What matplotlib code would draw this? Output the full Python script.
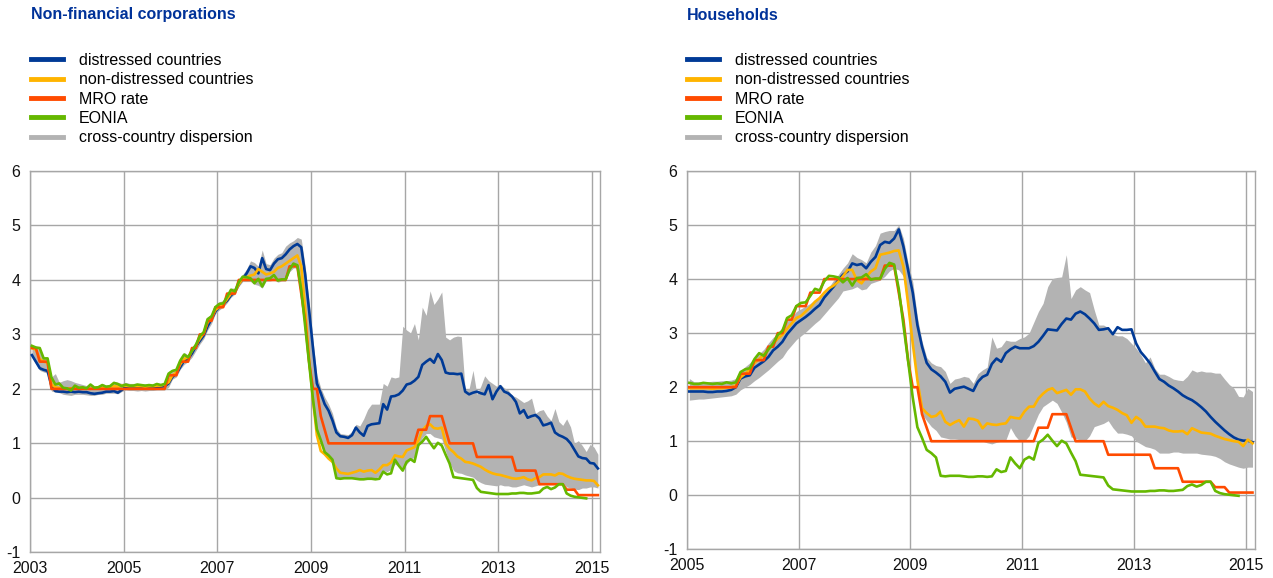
import matplotlib
matplotlib.use('Agg')
import matplotlib.pyplot as plt
from matplotlib.lines import Line2D
import numpy as np

plt.rcParams['font.family'] = ['Liberation Sans', 'DejaVu Sans']
plt.rcParams['axes.unicode_minus'] = False

BLUE = '#003a96'
YELLOW = '#ffb400'
ORANGE = '#ff4b00'
GREEN = '#65b800'
GRAY = '#b3b3b3'
GRID = '#a6a6a6'

labels = ['distressed countries', 'non-distressed countries', 'MRO rate', 'EONIA',
          'cross-country dispersion']

# monthly data, Jan 2003 - Feb 2015 (EONIA to Nov 2014)
mro = [2.75, 2.75, 2.50, 2.50, 2.50, 2.00, 2.00, 2.00, 2.00, 2.00, 2.00, 2.00,
       2.00, 2.00, 2.00, 2.00, 2.00, 2.00, 2.00, 2.00, 2.00, 2.00, 2.00, 2.00,
       2.00, 2.00, 2.00, 2.00, 2.00, 2.00, 2.00, 2.00, 2.00, 2.00, 2.00, 2.25,
       2.25, 2.25, 2.50, 2.50, 2.50, 2.75, 2.75, 3.00, 3.00, 3.25, 3.25, 3.50,
       3.50, 3.50, 3.75, 3.75, 3.75, 4.00, 4.00, 4.00, 4.00, 4.00, 4.00, 4.00,
       4.00, 4.00, 4.00, 4.00, 4.00, 4.00, 4.25, 4.25, 4.25, 3.75, 3.25, 2.50,
       2.00, 2.00, 1.50, 1.25, 1.00, 1.00, 1.00, 1.00, 1.00, 1.00, 1.00, 1.00,
       1.00, 1.00, 1.00, 1.00, 1.00, 1.00, 1.00, 1.00, 1.00, 1.00, 1.00, 1.00,
       1.00, 1.00, 1.00, 1.25, 1.25, 1.25, 1.50, 1.50, 1.50, 1.50, 1.25, 1.00,
       1.00, 1.00, 1.00, 1.00, 1.00, 1.00, 0.75, 0.75, 0.75, 0.75, 0.75, 0.75,
       0.75, 0.75, 0.75, 0.75, 0.50, 0.50, 0.50, 0.50, 0.50, 0.50, 0.25, 0.25,
       0.25, 0.25, 0.25, 0.25, 0.25, 0.15, 0.15, 0.15, 0.05, 0.05, 0.05, 0.05,
       0.05, 0.05]

eonia = [2.79, 2.76, 2.75, 2.56, 2.56, 2.21, 2.08, 2.10, 2.02, 2.01, 1.97, 2.06,
         2.02, 2.03, 2.01, 2.08, 2.02, 2.03, 2.07, 2.04, 2.05, 2.11, 2.09, 2.05,
         2.08, 2.06, 2.06, 2.08, 2.07, 2.06, 2.07, 2.06, 2.09, 2.07, 2.09, 2.28,
         2.33, 2.35, 2.52, 2.63, 2.58, 2.70, 2.81, 2.97, 3.04, 3.28, 3.33, 3.50,
         3.56, 3.57, 3.69, 3.82, 3.79, 3.96, 4.06, 4.05, 4.03, 3.94, 4.02, 3.88,
         4.02, 4.03, 4.09, 3.99, 4.01, 4.01, 4.19, 4.30, 4.27, 3.82, 3.15, 2.49,
         1.81, 1.26, 1.06, 0.84, 0.78, 0.70, 0.36, 0.35, 0.36, 0.36, 0.36, 0.35,
         0.34, 0.34, 0.35, 0.35, 0.34, 0.35, 0.48, 0.43, 0.45, 0.70, 0.59, 0.50,
         0.66, 0.71, 0.66, 0.97, 1.03, 1.12, 1.01, 0.91, 1.01, 0.96, 0.79, 0.63,
         0.38, 0.37, 0.36, 0.35, 0.34, 0.33, 0.18, 0.11, 0.10, 0.09, 0.08, 0.07,
         0.07, 0.07, 0.07, 0.08, 0.08, 0.09, 0.09, 0.08, 0.08, 0.09, 0.10, 0.17,
         0.20, 0.16, 0.19, 0.25, 0.25, 0.08, 0.04, 0.02, 0.01, 0.00, -0.01]

# Non-financial corporations, Jan 2003 - Feb 2015
nfc_distressed = [2.62, 2.50, 2.38, 2.35, 2.33, 2.05, 1.96, 1.95, 1.95, 1.94, 1.95, 1.94,
                  1.95, 1.94, 1.94, 1.92, 1.91, 1.92, 1.93, 1.95, 1.95, 1.96, 1.93, 1.98,
                  2.03, 2.04, 2.03, 2.02, 2.02, 2.02, 2.02, 2.03, 2.04, 2.04, 2.05, 2.10,
                  2.22, 2.28, 2.40, 2.52, 2.55, 2.65, 2.78, 2.88, 2.98, 3.15, 3.28, 3.42,
                  3.50, 3.55, 3.62, 3.72, 3.78, 3.92, 4.02, 4.12, 4.25, 4.22, 4.12, 4.40,
                  4.20, 4.18, 4.30, 4.38, 4.40, 4.47, 4.56, 4.62, 4.66, 4.60, 4.10, 3.45,
                  2.75, 2.10, 1.92, 1.72, 1.60, 1.42, 1.20, 1.13, 1.12, 1.10, 1.15, 1.29,
                  1.20, 1.14, 1.32, 1.35, 1.36, 1.37, 1.72, 1.62, 1.86, 1.87, 1.90, 1.97,
                  2.08, 2.10, 2.15, 2.22, 2.44, 2.50, 2.55, 2.48, 2.64, 2.53, 2.30, 2.28,
                  2.28, 2.27, 2.28, 1.95, 1.90, 1.93, 1.95, 1.92, 1.90, 2.07, 1.81, 1.95,
                  2.05, 1.95, 1.92, 1.86, 1.76, 1.55, 1.61, 1.47, 1.50, 1.52, 1.46, 1.33,
                  1.35, 1.38, 1.20, 1.15, 1.12, 1.08, 1.00, 0.88, 0.76, 0.73, 0.72, 0.64,
                  0.63, 0.54]
nfc_non_distressed = [2.75, 2.72, 2.55, 2.50, 2.48, 2.08, 2.03, 2.02, 2.01, 2.00, 2.01, 2.02,
                      2.02, 2.01, 2.01, 2.00, 2.02, 2.03, 2.02, 2.03, 2.03, 2.05, 2.04, 2.06,
                      2.06, 2.05, 2.05, 2.05, 2.05, 2.04, 2.05, 2.05, 2.06, 2.06, 2.08, 2.12,
                      2.25, 2.30, 2.45, 2.55, 2.58, 2.70, 2.80, 2.92, 3.02, 3.22, 3.30, 3.45,
                      3.50, 3.55, 3.65, 3.75, 3.78, 3.92, 4.02, 4.05, 4.08, 4.10, 4.20, 4.15,
                      4.10, 4.12, 4.15, 4.22, 4.25, 4.30, 4.35, 4.40, 4.45, 4.25, 3.45, 2.55,
                      1.80, 1.15, 0.86, 0.80, 0.72, 0.66, 0.54, 0.46, 0.45, 0.44, 0.46, 0.48,
                      0.51, 0.48, 0.50, 0.51, 0.46, 0.52, 0.60, 0.60, 0.65, 0.78, 0.76, 0.75,
                      0.87, 0.90, 0.93, 1.05, 1.24, 1.32, 1.35, 1.28, 1.27, 1.29, 1.00, 0.90,
                      0.84, 0.76, 0.72, 0.66, 0.65, 0.63, 0.60, 0.57, 0.52, 0.48, 0.45, 0.43,
                      0.42, 0.40, 0.38, 0.36, 0.35, 0.36, 0.38, 0.34, 0.32, 0.36, 0.38, 0.43,
                      0.43, 0.43, 0.41, 0.45, 0.44, 0.40, 0.37, 0.35, 0.34, 0.33, 0.32, 0.32,
                      0.31, 0.23]
nfc_upper = [2.80, 2.78, 2.76, 2.57, 2.55, 2.22, 2.28, 2.12, 2.15, 2.17, 2.15, 2.12,
             2.10, 2.08, 2.06, 2.10, 2.06, 2.06, 2.10, 2.07, 2.08, 2.14, 2.12, 2.10,
             2.12, 2.10, 2.10, 2.10, 2.09, 2.09, 2.09, 2.09, 2.11, 2.10, 2.12, 2.32,
             2.36, 2.38, 2.56, 2.67, 2.62, 2.75, 2.85, 3.00, 3.08, 3.32, 3.38, 3.54,
             3.60, 3.62, 3.73, 3.85, 3.85, 4.00, 4.10, 4.20, 4.35, 4.32, 4.25, 4.55,
             4.30, 4.28, 4.40, 4.47, 4.50, 4.62, 4.68, 4.72, 4.78, 4.75, 4.25, 3.60,
             2.90, 2.25, 2.02, 1.85, 1.72, 1.55, 1.28, 1.18, 1.17, 1.16, 1.22, 1.35,
             1.32, 1.45, 1.62, 1.72, 1.72, 1.72, 2.10, 2.05, 2.22, 2.20, 2.22, 3.15,
             3.08, 3.03, 3.20, 2.90, 3.50, 3.35, 3.80, 3.55, 3.65, 3.78, 2.95, 2.90,
             2.95, 2.97, 2.96, 1.98, 2.00, 2.34, 1.90, 2.05, 2.24, 2.15, 2.10, 2.05,
             2.08, 2.02, 1.98, 1.88, 1.85, 1.80, 1.75, 1.78, 1.83, 1.55, 1.60, 1.62,
             1.50, 1.42, 1.64, 1.40, 1.33, 1.45, 1.30, 1.00, 1.05, 0.96, 0.85, 0.98,
             0.93, 0.80]
nfc_lower = [2.58, 2.46, 2.34, 2.31, 2.29, 1.96, 1.94, 1.93, 1.90, 1.89, 1.88, 1.90,
             1.90, 1.90, 1.89, 1.88, 1.88, 1.90, 1.90, 1.92, 1.92, 1.92, 1.91, 1.95,
             1.98, 1.97, 1.97, 1.96, 1.97, 1.96, 1.97, 1.97, 1.98, 1.98, 1.98, 2.03,
             2.18, 2.22, 2.36, 2.45, 2.50, 2.58, 2.70, 2.82, 2.92, 3.08, 3.20, 3.38,
             3.45, 3.50, 3.58, 3.68, 3.74, 3.88, 3.97, 3.97, 3.97, 3.92, 3.90, 3.85,
             3.98, 3.98, 4.00, 3.96, 3.98, 3.98, 4.15, 4.22, 4.22, 3.80, 3.12, 2.45,
             1.78, 1.22, 1.02, 0.80, 0.74, 0.66, 0.36, 0.35, 0.36, 0.36, 0.36, 0.35,
             0.35, 0.35, 0.36, 0.37, 0.37, 0.40, 0.50, 0.48, 0.52, 0.62, 0.58, 0.55,
             0.62, 0.70, 0.75, 0.95, 1.10, 1.18, 1.18, 1.12, 1.10, 1.08, 0.85, 0.65,
             0.50, 0.46, 0.45, 0.42, 0.40, 0.38, 0.32, 0.28, 0.25, 0.24, 0.23, 0.22,
             0.24, 0.22, 0.22, 0.20, 0.20, 0.22, 0.24, 0.22, 0.20, 0.22, 0.24, 0.25,
             0.27, 0.26, 0.25, 0.28, 0.27, 0.20, 0.18, 0.16, 0.15, 0.18, 0.18, 0.20,
             0.20, 0.18]

# Households, Jan 2005 - Feb 2015
hh_distressed = [1.92, 1.92, 1.92, 1.92, 1.91, 1.91, 1.92, 1.92, 1.93, 1.95, 2.00, 2.16,
                 2.20, 2.22, 2.36, 2.42, 2.48, 2.56, 2.68, 2.75, 2.84, 2.98, 3.08, 3.18,
                 3.24, 3.30, 3.37, 3.45, 3.52, 3.66, 3.76, 3.86, 3.98, 4.08, 4.14, 4.29,
                 4.26, 4.28, 4.20, 4.32, 4.41, 4.63, 4.69, 4.67, 4.75, 4.92, 4.60, 4.17,
                 3.75, 3.15, 2.75, 2.45, 2.33, 2.27, 2.20, 2.10, 1.90, 1.97, 1.99, 2.01,
                 1.97, 1.93, 2.10, 2.19, 2.23, 2.43, 2.53, 2.47, 2.63, 2.70, 2.75, 2.72,
                 2.72, 2.72, 2.76, 2.84, 2.95, 3.07, 3.06, 3.05, 3.17, 3.27, 3.25, 3.36,
                 3.40, 3.35, 3.27, 3.18, 3.06, 3.07, 3.09, 2.98, 3.11, 3.06, 3.06, 3.07,
                 2.81, 2.65, 2.55, 2.44, 2.29, 2.15, 2.10, 2.03, 1.98, 1.92, 1.85, 1.80,
                 1.76, 1.70, 1.63, 1.55, 1.45, 1.36, 1.28, 1.20, 1.13, 1.07, 1.03, 1.01,
                 1.01, 0.98]
hh_non_distressed = [1.98, 1.98, 1.98, 1.98, 1.98, 1.97, 1.98, 1.98, 1.99, 2.00, 2.03, 2.18,
                     2.25, 2.32, 2.45, 2.52, 2.60, 2.70, 2.80, 2.90, 2.97, 3.08, 3.18, 3.28,
                     3.32, 3.40, 3.48, 3.58, 3.65, 3.75, 3.83, 3.88, 3.95, 4.05, 4.17, 4.17,
                     3.98, 3.92, 4.04, 4.14, 4.20, 4.45, 4.47, 4.49, 4.52, 4.53, 4.23, 3.55,
                     2.81, 2.13, 1.61, 1.52, 1.45, 1.47, 1.55, 1.36, 1.30, 1.35, 1.39, 1.27,
                     1.42, 1.41, 1.38, 1.24, 1.33, 1.31, 1.30, 1.32, 1.33, 1.45, 1.43, 1.42,
                     1.55, 1.64, 1.64, 1.79, 1.88, 1.95, 1.98, 1.89, 1.92, 1.95, 1.86, 1.96,
                     1.96, 1.92, 1.79, 1.70, 1.64, 1.73, 1.65, 1.62, 1.58, 1.52, 1.48, 1.34,
                     1.45, 1.39, 1.27, 1.27, 1.27, 1.25, 1.24, 1.20, 1.18, 1.18, 1.19, 1.13,
                     1.24, 1.20, 1.16, 1.15, 1.14, 1.10, 1.07, 1.04, 1.02, 1.00, 0.99, 0.91,
                     1.03, 0.96]
hh_upper = [2.16, 2.10, 2.10, 2.10, 2.10, 2.11, 2.11, 2.12, 2.12, 2.13, 2.16, 2.30,
            2.38, 2.45, 2.55, 2.62, 2.70, 2.82, 2.92, 3.00, 3.12, 3.22, 3.30, 3.40,
            3.45, 3.50, 3.55, 3.62, 3.66, 3.75, 3.85, 3.98, 4.08, 4.20, 4.30, 4.47,
            4.40, 4.36, 4.30, 4.50, 4.62, 4.85, 4.88, 4.90, 4.90, 5.00, 4.75, 4.30,
            3.95, 3.30, 2.85, 2.55, 2.45, 2.40, 2.38, 2.29, 2.07, 2.15, 2.17, 2.20,
            2.18, 2.07, 2.25, 2.32, 2.37, 2.93, 2.72, 2.75, 2.87, 2.85, 2.85, 2.90,
            2.93, 3.00, 3.20, 3.40, 3.55, 3.86, 4.01, 4.03, 4.04, 4.45, 3.64, 3.80,
            3.86, 3.80, 3.75, 3.43, 3.15, 3.15, 3.10, 2.98, 2.95, 2.95, 2.90, 2.81,
            2.72, 2.60, 2.45, 2.56, 2.35, 2.24, 2.24, 2.20, 2.15, 2.13, 2.12, 2.20,
            2.32, 2.28, 2.30, 2.28, 2.28, 2.26, 2.26, 2.15, 2.05, 1.98, 1.83, 1.82,
            1.98, 1.92]
hh_lower = [1.76, 1.77, 1.78, 1.78, 1.79, 1.80, 1.81, 1.82, 1.83, 1.84, 1.87, 1.95,
            2.00, 2.05, 2.12, 2.18, 2.25, 2.32, 2.40, 2.48, 2.55, 2.68, 2.78, 2.88,
            2.95, 3.02, 3.10, 3.18, 3.25, 3.35, 3.45, 3.55, 3.65, 3.78, 3.80, 3.82,
            3.86, 3.80, 3.82, 3.92, 3.95, 3.98, 4.05, 4.15, 4.20, 4.17, 4.05, 3.40,
            2.70, 2.05, 1.50, 1.38, 1.27, 1.20, 1.08, 1.06, 1.04, 1.04, 1.03, 1.02,
            1.02, 1.01, 1.00, 1.00, 0.97, 0.95, 0.98, 1.00, 1.02, 1.25, 1.10, 1.00,
            1.00, 1.10, 1.30, 1.50, 1.64, 1.70, 1.76, 1.70, 1.54, 1.35, 1.08, 1.05,
            1.02, 1.00, 1.10, 1.27, 1.30, 1.33, 1.38, 1.25, 1.15, 1.15, 1.13, 1.10,
            1.00, 0.95, 0.90, 0.88, 0.85, 0.78, 0.78, 0.78, 0.80, 0.80, 0.78, 0.78,
            0.78, 0.78, 0.76, 0.75, 0.74, 0.72, 0.68, 0.62, 0.58, 0.55, 0.52, 0.50,
            0.52, 0.52]

W, H = 1273, 578
fig = plt.figure(figsize=(W / 100, H / 100), dpi=100)
ax1 = fig.add_axes([30 / W, 25.7 / H, 570 / W, 381.3 / H])
ax2 = fig.add_axes([687 / W, 28.7 / H, 568 / W, 378.3 / H])


def months(start, vals):
    return start + (np.arange(len(vals)) + 0.5) / 12


def panel(ax, start, dist, nondist, lower, upper, mro_s, eonia_s, title, tx):
    ax.fill_between(months(start, lower), lower, upper, color=GRAY, lw=0, zorder=2)
    ax.plot(months(start, dist), dist, color=BLUE, lw=1.9, zorder=3)
    ax.plot(months(start, nondist), nondist, color=YELLOW, lw=1.9, zorder=3)
    ax.plot(months(start, mro_s), mro_s, color=ORANGE, lw=1.9, zorder=3)
    ax.plot(months(start, eonia_s), eonia_s, color=GREEN, lw=1.9, zorder=3)

    ax.set_xlim(start, 2015.17)
    ax.set_ylim(-1, 6)
    ax.set_xticks(range(start, 2016, 2))
    ax.set_yticks(range(-1, 7))
    ax.grid(True, color=GRID, lw=1.0, zorder=0)
    ax.tick_params(length=0, labelsize=11.5, colors='#111111')
    ax.tick_params(axis='x', pad=6)
    ax.tick_params(axis='y', pad=7)
    for s in ax.spines.values():
        s.set_color(GRID)
        s.set_linewidth(1.0)

    fig.text(tx / W, 1 - 15 / H, title, fontsize=11.5, fontweight='bold',
             color='#003299', va='center', ha='left')
    handles = [Line2D([], [], color=c, lw=3.5) for c in [BLUE, YELLOW, ORANGE, GREEN, GRAY]]
    ax.legend(handles, labels, loc='upper left', bbox_to_anchor=(tx / W, 1 - 53 / H),
              bbox_transform=fig.transFigure, frameon=False, fontsize=11.5,
              handlelength=2.0, handletextpad=1.0, labelspacing=0.27,
              borderpad=0, borderaxespad=0)


panel(ax1, 2003, nfc_distressed, nfc_non_distressed, nfc_lower, nfc_upper,
      mro, eonia, 'Non-financial corporations', 31)
panel(ax2, 2005, hh_distressed, hh_non_distressed, hh_lower, hh_upper,
      mro[24:], eonia[24:], 'Households', 687)

fig.savefig('out.png', dpi=100)
